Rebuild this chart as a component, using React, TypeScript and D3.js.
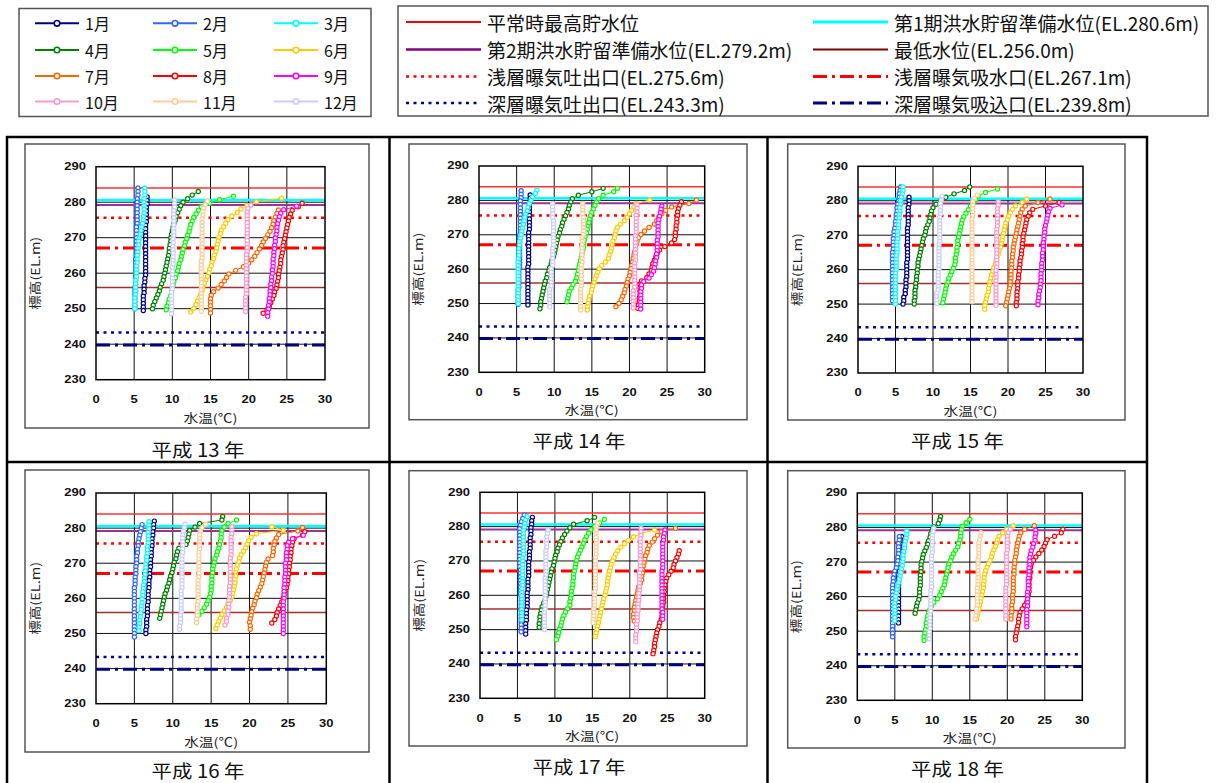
import React from "react";
import * as d3 from "d3";

// ---------- categories / labels ----------
const MONTH_LABELS = ["1月", "2月", "3月", "4月", "5月", "6月", "7月", "8月", "9月", "10月", "11月", "12月"];
const MONTH_COLORS = ["#000080", "#3366ff", "#00ffff", "#008000", "#00ff00", "#ffcc00", "#ff6600", "#ff0000", "#ff00ff", "#ff99cc", "#ffcc99", "#ccccff"];
const YEAR_LABELS = ["平成 13 年", "平成 14 年", "平成 15 年", "平成 16 年", "平成 17 年", "平成 18 年"];
const X_TICKS = [0, 5, 10, 15, 20, 25, 30];
const Y_TICKS = [230, 240, 250, 260, 270, 280, 290];
const X_TITLE = "水温(℃)";
const Y_TITLE = "標高(EL.m)";

// reference levels (EL. m)
const REF_LABELS = [
  "平常時最高貯水位",
  "第1期洪水貯留準備水位(EL.280.6m)",
  "第2期洪水貯留準備水位(EL.279.2m)",
  "最低水位(EL.256.0m)",
  "浅層曝気吐出口(EL.275.6m)",
  "浅層曝気吸水口(EL.267.1m)",
  "深層曝気吐出口(EL.243.3m)",
  "深層曝気吸込口(EL.239.8m)",
];
const REF_LEVELS = [284.0, 280.6, 279.2, 256.0, 275.6, 267.1, 243.3, 239.8];

// ---------- profile data: surface elevation per month, temperatures at 1 m steps downward ----------
const H13_TOP = [281.5, 284.0, 284.0, 283.0, 281.7, 281.1, 277.8, 279.7, 278.9, 279.2, 280.3, 280.6];
const H13_T = [
  [6.7,6.7,6.7,6.6,6.6,6.6,6.6,6.6,6.5,6.5,6.5,6.5,6.5,6.5,6.5,6.5,6.5,6.5,6.5,6.5,6.5,6.5,6.5,6.4,6.4,6.3,6.3,6.3,6.2,6.2,6.2,6.2,6.2],
  [5.5,5.5,5.5,5.4,5.4,5.4,5.4,5.4,5.4,5.4,5.4,5.3,5.3,5.3,5.3,5.3,5.3,5.3,5.3,5.3,5.2,5.2,5.2,5.2,5.2,5.2,5.2,5.2,5.1,5.1,5.1,5.1,5.1,5.1,5.1],
  [6.4,6.4,6.4,6.3,6.3,6.3,6.3,6.3,6.2,6.2,6.1,6.0,5.9,5.8,5.7,5.6,5.6,5.5,5.5,5.4,5.4,5.4,5.3,5.3,5.3,5.3,5.2,5.2,5.2,5.2,5.2,5.1,5.1,5.1,5.1],
  [13.4,12.6,12.0,11.4,11.1,10.9,10.7,10.5,10.4,10.2,10.1,10.0,9.9,9.8,9.8,9.7,9.6,9.6,9.5,9.4,9.3,9.2,9.1,9.0,8.9,8.8,8.6,8.4,8.3,8.1,7.9,7.7,7.5,7.4],
  [18.0,16.2,14.9,13.8,13.4,13.1,12.8,12.6,12.4,12.3,12.2,12.0,11.9,11.7,11.6,11.4,11.3,11.2,11.1,10.9,10.8,10.7,10.5,10.4,10.2,10.1,10.0,9.9,9.8,9.6,9.5,9.3,9.2],
  [24.3,21.0,19.8,19.0,18.5,17.8,17.3,17.0,16.7,16.4,16.3,16.1,16.0,15.9,15.8,15.7,15.5,15.4,15.2,15.1,14.9,14.8,14.6,14.4,14.2,14.0,13.9,13.7,13.5,13.3,13.1,12.8,12.4],
  [23.9,23.7,23.5,23.3,23.2,23.0,22.8,22.5,22.2,21.9,21.7,21.4,21.1,20.8,20.4,20.0,19.3,18.3,17.4,17.1,16.8,16.4,16.0,15.4,15.1,15.0,15.0,15.0,15.0,15.0],
  [27.0,26.5,25.7,25.5,25.3,25.2,25.1,25.0,24.9,24.8,24.7,24.6,24.5,24.5,24.4,24.3,24.2,24.2,24.1,24.0,23.9,23.9,23.8,23.7,23.6,23.4,23.3,23.1,22.9,22.7,22.4,21.9],
  [26.3,24.6,24.2,24.0,23.9,23.8,23.7,23.7,23.6,23.5,23.5,23.4,23.4,23.3,23.3,23.2,23.2,23.2,23.1,23.1,23.0,23.0,22.9,22.9,22.8,22.8,22.7,22.7,22.6,22.6,22.5,22.5],
  [20.3,19.9,19.8,19.8,19.8,19.8,19.8,19.8,19.8,19.8,19.8,19.8,19.8,19.8,19.7,19.7,19.7,19.7,19.7,19.7,19.7,19.7,19.7,19.7,19.7,19.7,19.6,19.6,19.6,19.6,19.6],
  [14.6,14.3,14.1,14.0,14.0,13.9,13.9,13.9,13.9,13.9,13.9,13.9,13.9,13.9,13.9,13.9,13.9,13.8,13.8,13.8,13.8,13.8,13.8,13.8,13.8,13.8,13.8,13.8,13.8,13.8,13.8,13.8],
  [10.3,10.3,10.3,10.2,10.2,10.2,10.2,10.2,10.2,10.2,10.2,10.1,10.1,10.1,10.1,10.1,10.1,10.1,10.1,10.0,10.0,10.0,10.0,10.0,10.0,10.0,9.9,9.9,9.9,9.9,9.9,9.9,9.9],
];

const H14_TOP = [281.6, 282.8, 283.0, 283.5, 283.5, 280.1, 280.1, 279.6, 278.4, 278.7, 279.1, 279.1];
const H14_T = [
  [6.8,6.8,6.8,6.7,6.7,6.7,6.7,6.7,6.7,6.7,6.7,6.6,6.6,6.6,6.6,6.6,6.6,6.6,6.6,6.6,6.6,6.5,6.5,6.5,6.5,6.5,6.5,6.5,6.5,6.5,6.5,6.5,6.5],
  [5.6,5.6,5.6,5.5,5.5,5.5,5.5,5.5,5.5,5.5,5.5,5.5,5.5,5.4,5.4,5.4,5.4,5.4,5.4,5.4,5.4,5.4,5.4,5.3,5.3,5.3,5.3,5.3,5.3,5.2,5.2,5.2,5.2,5.2],
  [7.7,7.5,7.1,6.9,6.7,6.5,6.4,6.2,6.1,6.0,5.9,5.8,5.7,5.6,5.5,5.4,5.4,5.3,5.3,5.3,5.2,5.2,5.2,5.2,5.2,5.2,5.2,5.2,5.2,5.2,5.2,5.2,5.2,5.2],
  [16.5,15.0,13.2,12.4,12.2,12.0,11.9,11.7,11.5,11.3,11.1,11.0,10.8,10.7,10.5,10.4,10.3,10.2,10.1,10.0,9.9,9.7,9.6,9.4,9.3,9.1,9.0,8.8,8.7,8.6,8.5,8.4,8.3,8.2,8.2,8.1],
  [18.4,17.9,16.5,15.9,15.6,15.4,15.2,15.0,14.8,14.7,14.6,14.5,14.4,14.3,14.1,14.0,13.9,13.9,13.8,13.7,13.6,13.5,13.4,13.3,13.2,13.1,13.0,12.8,12.5,12.3,12.0,11.9,11.8,11.7],
  [22.7,20.9,20.6,20.3,20.0,19.7,19.3,18.8,18.4,18.2,18.1,18.0,17.8,17.7,17.6,17.5,17.3,17.2,16.8,16.3,16.0,15.8,15.6,15.4,15.3,15.1,15.0,14.9,14.7,14.6,14.5,14.4,14.4],
  [28.9,27.9,25.6,24.8,24.3,23.9,23.6,23.3,22.6,22.0,21.5,21.2,21.0,20.9,20.8,20.7,20.6,20.5,20.4,20.3,20.2,20.1,20.0,19.8,19.7,19.6,19.4,19.3,19.1,18.9,18.6,18.2],
  [26.9,26.7,26.5,26.4,26.4,26.3,26.3,26.2,26.2,26.1,26.1,26.0,25.6,24.7,24.0,23.7,23.5,23.3,23.1,23.0,22.9,22.6,22.3,21.6,21.4,21.4,21.4,21.4,21.3,21.3,21.2,21.1],
  [24.3,24.2,24.1,24.0,23.9,23.8,23.8,23.8,23.8,23.8,23.7,23.7,23.7,23.7,23.6,23.6,23.5,23.4,23.3,23.2,22.9,22.6,21.9,21.6,21.6,21.5,21.5,21.5,21.5,21.5,21.5],
  [21.0,21.0,21.0,20.9,20.9,20.9,20.9,20.9,20.9,20.8,20.8,20.8,20.8,20.8,20.8,20.8,20.8,20.7,20.7,20.7,20.7,20.7,20.7,20.7,20.7,20.5,20.5,20.5,20.5,20.5,20.5],
  [13.8,13.8,13.8,13.8,13.9,13.9,13.9,13.9,13.9,13.9,13.7,13.7,13.7,13.7,13.7,13.7,13.7,13.7,13.6,13.6,13.6,13.6,13.6,13.6,13.6,13.5,13.5,13.5,13.5,13.5,13.5,13.5],
  [9.8,9.8,9.8,9.8,9.8,9.9,9.9,9.9,9.9,9.9,9.9,9.9,9.9,9.8,9.8,9.8,9.8,9.8,9.8,9.6,9.6,9.6,9.6,9.6,9.6,9.4,9.4,9.4,9.4,9.4,9.4],
];

const H15_TOP = [281.0, 284.0, 284.0, 284.0, 283.4, 280.5, 280.5, 279.5, 278.8, 279.7, 281.7, 281.2];
const H15_T = [
  [6.8,6.8,6.8,6.7,6.7,6.7,6.7,6.7,6.7,6.6,6.6,6.6,6.6,6.6,6.6,6.6,6.6,6.6,6.6,6.5,6.5,6.5,6.5,6.5,6.4,6.4,6.4,6.3,6.3,6.1,6.1,6.0],
  [5.7,5.6,5.5,5.5,5.4,5.3,5.2,5.2,5.1,5.1,5.0,5.0,4.9,4.8,4.8,4.7,4.7,4.7,4.7,4.6,4.6,4.6,4.6,4.6,4.6,4.6,4.6,4.6,4.6,4.6,4.6,4.6,4.6,4.6],
  [6.0,6.0,5.9,5.8,5.7,5.7,5.6,5.6,5.5,5.5,5.4,5.4,5.4,5.3,5.3,5.3,5.2,5.2,5.2,5.2,5.1,5.1,5.1,5.1,5.1,5.0,5.0,5.0,5.0,5.0,5.0,5.0,5.0,5.0,5.0],
  [14.9,14.2,12.8,11.7,11.0,10.4,10.0,9.8,9.7,9.6,9.5,9.3,9.1,9.0,8.9,8.7,8.6,8.5,8.4,8.3,8.2,8.1,8.0,8.0,7.9,7.9,7.8,7.8,7.7,7.7,7.6,7.6,7.6,7.5,7.5],
  [18.6,17.0,16.0,15.7,15.4,15.0,14.7,14.4,14.1,13.9,13.8,13.7,13.6,13.5,13.4,13.3,13.3,13.2,13.2,13.1,13.0,13.0,12.9,12.7,12.5,12.3,12.1,12.0,11.8,11.7,11.6,11.5,11.4,11.3],
  [22.5,21.9,21.0,20.6,20.3,20.1,19.9,19.7,19.6,19.5,19.4,19.3,19.2,19.1,19.0,18.8,18.7,18.5,18.4,18.3,18.1,18.0,17.8,17.7,17.6,17.5,17.4,17.4,17.2,17.1,17.0,16.9,16.9],
  [25.6,24.0,22.3,21.9,21.7,21.6,21.5,21.4,21.3,21.2,21.1,21.0,20.9,20.8,20.7,20.7,20.6,20.6,20.5,20.5,20.5,20.4,20.4,20.4,20.3,20.3,20.2,20.1,20.0,19.9,19.8,19.7],
  [26.8,25.0,23.3,22.9,22.7,22.5,22.4,22.3,22.2,22.1,22.0,22.0,21.9,21.9,21.8,21.8,21.7,21.6,21.6,21.5,21.5,21.4,21.4,21.3,21.3,21.3,21.2,21.2,21.2,21.1,21.1],
  [27.2,25.6,25.4,25.3,25.2,25.1,25.0,24.9,24.9,24.8,24.8,24.7,24.7,24.7,24.6,24.6,24.6,24.5,24.5,24.5,24.4,24.4,24.4,24.3,24.3,24.2,24.1,24.1,24.0,24.0],
  [18.7,18.7,18.6,18.6,18.6,18.6,18.6,18.6,18.5,18.5,18.5,18.5,18.5,18.5,18.5,18.5,18.5,18.5,18.5,18.5,18.4,18.4,18.4,18.4,18.4,18.4,18.4,18.4,18.4,18.4,18.4],
  [15.9,15.5,15.3,15.3,15.3,15.3,15.3,15.2,15.2,15.2,15.2,15.2,15.2,15.2,15.2,15.2,15.2,15.2,15.2,15.2,15.2,15.2,15.2,15.2,15.2,15.2,15.2,15.2,15.2,15.2,15.2,15.2],
  [11.2,11.1,11.0,11.0,11.0,11.0,10.9,10.9,10.9,10.9,10.9,10.9,10.9,10.9,10.8,10.8,10.8,10.8,10.8,10.8,10.8,10.8,10.7,10.7,10.7,10.7,10.7,10.7,10.5,10.5,10.5,10.5],
];

const H16_TOP = [282.0, 281.0, 281.8, 283.3, 282.3, 280.4, 280.2, 279.0, 278.0, 280.4, 281.1, 281.1];
const H16_T = [
  [7.6,7.5,7.5,7.4,7.4,7.3,7.3,7.3,7.2,7.2,7.2,7.1,7.1,7.1,7.0,7.0,7.0,6.9,6.9,6.9,6.8,6.8,6.8,6.8,6.7,6.7,6.7,6.7,6.6,6.6,6.6,6.5,6.5],
  [6.0,5.9,5.8,5.7,5.6,5.5,5.5,5.4,5.4,5.3,5.3,5.3,5.2,5.2,5.2,5.1,5.1,5.1,5.0,5.0,5.0,5.0,5.0,5.0,5.0,5.0,5.0,5.0,5.0,5.0,5.0,5.0,5.0],
  [6.9,6.9,6.9,6.8,6.8,6.8,6.8,6.7,6.7,6.7,6.6,6.6,6.5,6.5,6.4,6.4,6.3,6.3,6.2,6.2,6.1,6.1,6.0,6.0,5.9,5.9,5.8,5.8,5.7,5.7,5.6,5.6],
  [16.5,16.4,13.5,12.9,12.2,12.1,12.0,11.9,11.7,10.8,10.6,10.5,10.4,10.2,10.1,10.0,9.9,9.7,9.6,9.5,9.3,9.2,9.0,8.9,8.8,8.7,8.6,8.5,8.4,8.3],
  [18.3,17.2,16.7,16.4,16.3,16.3,16.2,16.1,16.0,15.8,15.7,15.5,15.4,15.3,15.2,15.2,15.1,15.1,15.1,15.0,15.0,14.9,14.8,14.6,14.4,14.1,13.8,13.4],
  [22.9,24.4,20.9,20.2,19.9,19.7,19.5,19.2,18.9,18.7,18.6,18.4,18.3,18.2,18.2,18.1,18.1,18.0,17.9,17.8,17.7,17.5,17.2,17.0,16.7,16.4,16.2,16.0,15.8,15.6],
  [26.9,26.3,23.8,23.5,23.3,23.2,23.1,23.1,23.0,22.4,22.2,22.1,22.0,21.9,21.8,21.7,21.6,21.4,21.2,21.0,20.9,20.7,20.6,20.4,20.3,20.2,20.1,20.0,20.1,20.1],
  [27.2,26.9,25.8,25.6,25.5,25.4,25.4,25.3,25.3,25.2,25.2,25.1,25.1,25.0,25.0,24.9,24.8,24.6,24.5,24.4,24.2,24.0,23.8,23.6,23.5,23.3,22.9],
  [27.0,25.6,25.1,24.9,24.9,24.8,24.8,24.8,24.7,24.7,24.7,24.7,24.6,24.6,24.6,24.5,24.5,24.5,24.5,24.4,24.4,24.4,24.4,24.4,24.4,24.4,24.4,24.4,24.4],
  [17.7,17.7,17.7,17.6,17.6,17.6,17.6,17.6,17.6,17.5,17.5,17.5,17.5,17.5,17.5,17.5,17.5,17.4,17.4,17.4,17.4,17.3,17.3,17.3,17.2,17.2,17.0,17.0,16.8],
  [14.3,13.8,13.6,13.5,13.5,13.5,13.5,13.5,13.4,13.4,13.4,13.4,13.4,13.4,13.4,13.4,13.3,13.3,13.3,13.3,13.3,13.3,13.3,13.2,13.2,13.2,13.2,13.1,13.1],
  [11.6,11.5,11.4,11.3,11.3,11.3,11.3,11.3,11.3,11.2,11.2,11.2,11.2,11.2,11.2,11.2,11.2,11.2,11.2,11.1,11.1,11.1,11.1,11.1,11.1,11.1,11.0,11.0,11.0,10.9,10.9],
];

const H17_TOP = [282.7, 283.4, 282.9, 282.7, 282.1, 279.0, 279.5, 273.0, 279.0, 279.5, 281.0, 279.0];
const H17_T = [
  [7.0,6.9,6.9,6.8,6.8,6.8,6.7,6.7,6.7,6.7,6.6,6.6,6.6,6.5,6.5,6.5,6.5,6.5,6.4,6.4,6.4,6.4,6.3,6.3,6.3,6.3,6.3,6.2,6.2,6.2,6.2,6.1,6.1,6.1,6.1],
  [5.9,5.7,5.5,5.4,5.3,5.3,5.3,5.3,5.3,5.3,5.3,5.3,5.3,5.3,5.3,5.3,5.4,5.4,5.4,5.4,5.4,5.4,5.4,5.4,5.5,5.5,5.5,5.5,5.5,5.5,5.5,5.5,5.5,5.5,5.5],
  [6.3,6.1,6.0,5.9,5.8,5.8,5.8,5.8,5.8,5.8,5.8,5.8,5.7,5.7,5.7,5.7,5.7,5.7,5.7,5.7,5.7,5.6,5.6,5.6,5.6,5.6,5.6,5.6,5.6,5.6,5.6],
  [15.3,14.3,12.5,12.0,11.6,11.3,11.0,10.8,10.6,10.4,10.3,10.1,10.0,9.9,9.8,9.6,9.5,9.4,9.3,9.2,9.1,9.0,8.9,8.8,8.7,8.5,8.3,8.2,8.1,8.0,8.0,7.9,7.9],
  [16.6,16.0,15.3,14.8,14.5,14.2,14.0,13.8,13.6,13.4,13.2,13.0,12.9,12.8,12.7,12.6,12.5,12.5,12.4,12.4,12.3,12.2,12.2,12.1,12.0,12.0,11.7,11.4,11.2,11.0,10.9,10.8,10.6,10.5,10.4,10.2],
  [23.3,21.5,20.5,19.8,19.3,18.8,18.4,18.1,17.9,17.7,17.5,17.4,17.3,17.2,17.1,17.0,17.0,16.9,16.8,16.7,16.5,16.4,16.3,16.2,16.1,16.0,15.9,15.8,15.7,15.6,15.5,15.4],
  [26.1,24.2,23.7,23.3,23.0,22.6,22.4,22.3,22.1,22.0,21.9,21.8,21.7,21.7,21.6,21.6,21.4,21.2,21.1,21.0,20.9,20.8,20.7,20.6,20.6,20.5,20.5,20.6],
  [26.6,26.5,26.3,26.1,25.9,25.8,25.5,25.2,24.9,24.8,24.7,24.6,24.6,24.5,24.5,24.5,24.4,24.4,24.3,24.3,24.2,24.0,23.9,23.7,23.6,23.5,23.4,23.3,23.3,23.2,23.1],
  [24.7,24.6,24.5,24.5,24.4,24.4,24.4,24.4,24.4,24.4,24.4,24.4,24.3,24.3,24.3,24.3,24.3,24.3,24.3,24.3,24.3,24.3,24.3,24.3,24.4,24.4,24.4],
  [21.5,21.5,21.5,21.4,21.4,21.4,21.4,21.4,21.4,21.4,21.4,21.4,21.4,21.3,21.3,21.3,21.3,21.3,21.3,21.2,21.2,21.2,21.1,21.1,21.1,21.0,21.0,21.0,20.9,20.9,20.9,20.8,20.8,20.8],
  [15.7,15.6,15.5,15.5,15.5,15.5,15.5,15.5,15.5,15.5,15.4,15.4,15.4,15.4,15.4,15.4,15.4,15.4,15.4,15.4,15.3,15.3,15.3,15.3,15.3,15.2,15.2,15.2,15.1,15.1],
  [9.1,9.0,8.9,8.9,8.9,8.9,8.8,8.8,8.8,8.8,8.8,8.8,8.8,8.8,8.7,8.7,8.7,8.7,8.7,8.7,8.7,8.7,8.7,8.7,8.6,8.6,8.6,8.6,8.6,8.6],
];

const H18_TOP = [277.4, 277.4, 279.0, 283.2, 282.4, 280.5, 280.5, 279.5, 279.3, 279.5, 278.5, 279.8];
const H18_T = [
  [5.9,5.8,5.7,5.6,5.6,5.6,5.6,5.6,5.6,5.6,5.6,5.5,5.5,5.5,5.5,5.5,5.5,5.5,5.5,5.5,5.5,5.5,5.5,5.5,5.5,5.5],
  [5.6,5.6,5.5,5.5,5.5,5.5,5.4,5.4,5.3,5.2,5.0,4.9,4.8,4.8,4.7,4.7,4.7,4.7,4.7,4.7,4.7,4.7,4.7,4.7,4.7,4.7,4.7,4.7,4.7,4.7],
  [6.6,6.6,6.5,6.4,6.3,6.3,6.2,6.1,6.1,6.0,6.0,5.9,5.8,5.7,5.6,5.5,5.4,5.3,5.2,5.1,5.1,5.0,5.0,5.0,5.0,5.0,5.0],
  [11.1,11.0,10.8,10.2,10.0,9.8,9.7,9.5,9.4,9.2,9.0,8.8,8.7,8.6,8.5,8.5,8.5,8.4,8.4,8.4,8.4,8.3,8.3,8.3,8.2,8.0,7.9,7.8,7.7],
  [15.0,14.5,14.0,13.9,13.8,13.8,13.7,13.5,13.4,13.1,12.8,12.6,12.4,12.2,12.1,12.0,11.9,11.8,11.7,11.6,11.4,11.2,11.0,10.7,10.2,9.9,9.7,9.5,9.4,9.3,9.2,9.2,9.1,9.0,8.9,8.9],
  [20.8,19.9,19.4,18.9,18.7,18.6,18.4,18.2,18.0,17.9,17.7,17.5,17.3,17.1,17.0,16.9,16.9,16.8,16.8,16.7,16.6,16.5,16.4,16.3,16.2,16.1,16.0,15.9],
  [23.6,22.3,21.8,21.6,21.5,21.4,21.3,21.2,21.2,21.1,21.0,21.0,20.9,20.9,20.9,20.8,20.8,20.8,20.8,20.8,20.7,20.7,20.7,20.6,20.6,20.6,20.5,20.5],
  [27.4,27.2,26.3,25.3,25.1,24.9,24.6,24.2,23.8,23.5,23.2,23.1,23.0,23.0,23.0,22.9,22.9,22.9,22.9,22.8,22.7,22.6,22.3,22.0,21.7,21.6,21.5,21.5,21.4,21.3,21.2,21.1,21.1],
  [23.8,23.8,23.7,23.7,23.5,23.4,23.2,23.1,23.0,23.0,23.0,22.9,22.9,22.9,22.8,22.8,22.8,22.8,22.7,22.7,22.7,22.7,22.7,22.6,22.6,22.6,22.6,22.6,22.6],
  [20.4,20.1,20.0,20.0,20.0,20.0,20.0,19.9,19.9,19.9,19.9,19.9,19.9,19.9,19.9,19.9,19.9,19.8,19.8,19.8,19.8,19.8,19.8,19.8,19.8,19.8,19.8],
  [16.5,16.4,16.3,16.2,16.2,16.2,16.2,16.2,16.1,16.1,16.1,16.1,16.1,16.1,16.1,16.1,16.0,16.0,16.0,16.0,16.0,16.0,15.9,15.9,15.8,15.7],
  [10.2,10.1,10.0,10.0,10.0,10.0,10.0,10.0,9.9,9.9,9.9,9.9,9.9,9.9,9.9,9.9,9.9,9.9,9.8,9.8,9.8,9.8,9.8,9.8,9.8,9.7,9.7,9.7,9.7,9.7,9.6,9.6,9.6],
];

const YEAR_TOPS = [H13_TOP, H14_TOP, H15_TOP, H16_TOP, H17_TOP, H18_TOP];
const YEAR_TEMPS = [H13_T, H14_T, H15_T, H16_T, H17_T, H18_T];

// ---------- styles / layout ----------
const REF_STYLES = [
  { color: "#ff3030", width: 1.5, dash: "" },
  { color: "#00ffff", width: 2.5, dash: "" },
  { color: "#993399", width: 2, dash: "" },
  { color: "#a03030", width: 1.5, dash: "" },
  { color: "#ff0000", width: 2.5, dash: "3,4.5" },
  { color: "#ff0000", width: 3, dash: "14,5,3,5" },
  { color: "#000099", width: 2.5, dash: "3,4.5" },
  { color: "#000080", width: 3, dash: "14,5,3,5" },
];
const LEGEND_REF_STYLES = [
  { color: "#ff0000", width: 2, dash: "" },
  { color: "#00ffff", width: 3, dash: "" },
  { color: "#800080", width: 2.5, dash: "" },
  { color: "#800000", width: 2, dash: "" },
  { color: "#ff0000", width: 2.5, dash: "3,4.5" },
  { color: "#ff0000", width: 3, dash: "14,5,3,5" },
  { color: "#000099", width: 2.5, dash: "3,4.5" },
  { color: "#000080", width: 3, dash: "14,5,3,5" },
];

const PANELS = [
  { box: [25, 144, 369, 428], plot: [96, 166.7, 325, 379.7], title: [198, 448.5] },
  { box: [409, 144, 747, 419.7], plot: [479, 166, 704.7, 372.3], title: [579, 440] },
  { box: [787.7, 144, 1125, 420], plot: [858, 166.3, 1083, 373], title: [957.5, 440] },
  { box: [25, 470, 369, 752], plot: [96, 493, 326.3, 703.7], title: [198, 769.5] },
  { box: [409, 470.7, 747, 746], plot: [480, 492.3, 704.7, 698.3], title: [579, 766] },
  { box: [787.7, 470.7, 1125, 748], plot: [857.3, 493, 1082.3, 700.3], title: [957.5, 767.5] },
];

const JP = "'Noto Sans CJK JP', 'Noto Sans', sans-serif";
const NUM = "'Liberation Sans', Arial, sans-serif";

function Panel({ idx }: { idx: number }) {
  const p = PANELS[idx];
  const [px0, py0, px1, py1] = p.plot;
  const [bx0, by0, bx1, by1] = p.box;
  const x = d3.scaleLinear().domain([0, 30]).range([px0, px1]);
  const y = d3.scaleLinear().domain([230, 290]).range([py1, py0]);
  const line = d3
    .line<[number, number]>()
    .x((d) => x(d[0]))
    .y((d) => y(d[1]));
  const tops = YEAR_TOPS[idx];
  const temps = YEAR_TEMPS[idx];
  const series = temps.map((arr, m) => arr.map((t, i) => [t, tops[m] - i] as [number, number]));
  return (
    <g>
      <rect x={bx0} y={by0} width={bx1 - bx0} height={by1 - by0} fill="#fff" stroke="#555" strokeWidth={1.5} />
      {X_TICKS.slice(1, -1).map((v) => (
        <line key={"gx" + v} x1={x(v)} x2={x(v)} y1={py0} y2={py1} stroke="#111" strokeWidth={1} />
      ))}
      {Y_TICKS.slice(1, -1).map((v) => (
        <line key={"gy" + v} x1={px0} x2={px1} y1={y(v)} y2={y(v)} stroke="#111" strokeWidth={1} />
      ))}
      {REF_LEVELS.map((lv, i) => (
        <line
          key={"r" + i}
          x1={px0}
          x2={px1}
          y1={y(lv)}
          y2={y(lv)}
          stroke={REF_STYLES[i].color}
          strokeWidth={REF_STYLES[i].width}
          strokeDasharray={REF_STYLES[i].dash || undefined}
        />
      ))}
      <rect x={px0} y={py0} width={px1 - px0} height={py1 - py0} fill="none" stroke="#000" strokeWidth={1.5} />
      {series.map((pts, m) => (
        <g key={"s" + m}>
          <path d={line(pts) || ""} fill="none" stroke={MONTH_COLORS[m]} strokeWidth={1} />
          {pts.map((d, i) => (
            <circle key={i} cx={x(d[0])} cy={y(d[1])} r={2.1} fill="#fff" stroke={MONTH_COLORS[m]} strokeWidth={1.2} />
          ))}
        </g>
      ))}
      {Y_TICKS.map((v) => (
        <text
          key={"ty" + v}
          transform={`translate(${px0 - 10},${y(v)}) scale(1.3,1)`}
          textAnchor="end"
          dominantBaseline="central"
          fontFamily={NUM}
          fontWeight="bold"
          fontSize={10}
          fill="#111"
        >
          {v}
        </text>
      ))}
      {X_TICKS.map((v) => (
        <text
          key={"tx" + v}
          transform={`translate(${x(v)},${py1 + 20}) scale(1.3,1)`}
          textAnchor="middle"
          dominantBaseline="central"
          fontFamily={NUM}
          fontWeight="bold"
          fontSize={10}
          fill="#111"
        >
          {v}
        </text>
      ))}
      <text
        x={(px0 + px1) / 2}
        y={py1 + 37.5}
        textAnchor="middle"
        dominantBaseline="central"
        fontFamily={JP}
        fontSize={12}
        textLength={54}
        lengthAdjust="spacingAndGlyphs"
        fill="#222"
      >
        {X_TITLE}
      </text>
      <text
        transform={`translate(${px0 - 62},${(py0 + py1) / 2}) rotate(-90)`}
        textAnchor="middle"
        dominantBaseline="central"
        fontFamily={JP}
        fontSize={12}
        textLength={73}
        lengthAdjust="spacingAndGlyphs"
        fill="#222"
      >
        {Y_TITLE}
      </text>
      <text
        x={p.title[0]}
        y={p.title[1]}
        textAnchor="middle"
        dominantBaseline="central"
        fontFamily={JP}
        fontSize={18.5}
        textLength={93}
        lengthAdjust="spacingAndGlyphs"
        fill="#111"
      >
        {YEAR_LABELS[idx]}
      </text>
    </g>
  );
}

function MonthLegend() {
  const colX = [35, 153, 274];
  const rowY = [23.3, 50, 76, 101.5];
  return (
    <g>
      <rect x={19} y={8.5} width={352} height={108} fill="#fff" stroke="#555" strokeWidth={1.5} />
      {MONTH_LABELS.map((lab, i) => {
        const cx = colX[i % 3];
        const cy = rowY[Math.floor(i / 3)];
        return (
          <g key={lab}>
            <line x1={cx} x2={cx + 44} y1={cy} y2={cy} stroke={MONTH_COLORS[i]} strokeWidth={2} />
            <circle cx={cx + 22} cy={cy} r={2.8} fill="#fff" stroke={MONTH_COLORS[i]} strokeWidth={1.6} />
            <text x={cx + 50} y={cy} dominantBaseline="central" fontFamily={JP} fontSize={16} fill="#111">
              {lab}
            </text>
          </g>
        );
      })}
    </g>
  );
}

function RefLegend() {
  const colLine = [406, 813];
  const colText = [487, 894];
  const rowY = [22, 49.5, 76.5, 103];
  return (
    <g>
      <rect x={398} y={6} width={810} height={110} fill="#fff" stroke="#555" strokeWidth={1.5} />
      {REF_LABELS.map((lab, i) => {
        const c = i % 2;
        const r = Math.floor(i / 2);
        const st = LEGEND_REF_STYLES[i];
        return (
          <g key={lab}>
            <line
              x1={colLine[c]}
              x2={colLine[c] + 75}
              y1={rowY[r]}
              y2={rowY[r]}
              stroke={st.color}
              strokeWidth={st.width}
              strokeDasharray={st.dash || undefined}
            />
            <text x={colText[c]} y={rowY[r]} dominantBaseline="central" fontFamily={JP} fontSize={19} fill="#111">
              {lab}
            </text>
          </g>
        );
      })}
    </g>
  );
}

export default function App() {
  return (
    <svg
      width={1216}
      height={783}
      viewBox="0 0 1216 783"
      style={{ position: "absolute", left: 0, top: 0, background: "#fff" }}
    >
      <rect x={0} y={0} width={1216} height={783} fill="#fff" />
      <MonthLegend />
      <RefLegend />
      <rect x={7} y={137} width={1140} height={670} fill="none" stroke="#000" strokeWidth={2.5} />
      <line x1={7} x2={1147} y1={462} y2={462} stroke="#000" strokeWidth={2.5} />
      <line x1={389.5} x2={389.5} y1={137} y2={800} stroke="#000" strokeWidth={2.5} />
      <line x1={767.5} x2={767.5} y1={137} y2={800} stroke="#000" strokeWidth={2.5} />
      {PANELS.map((_, i) => (
        <Panel key={i} idx={i} />
      ))}
    </svg>
  );
}
